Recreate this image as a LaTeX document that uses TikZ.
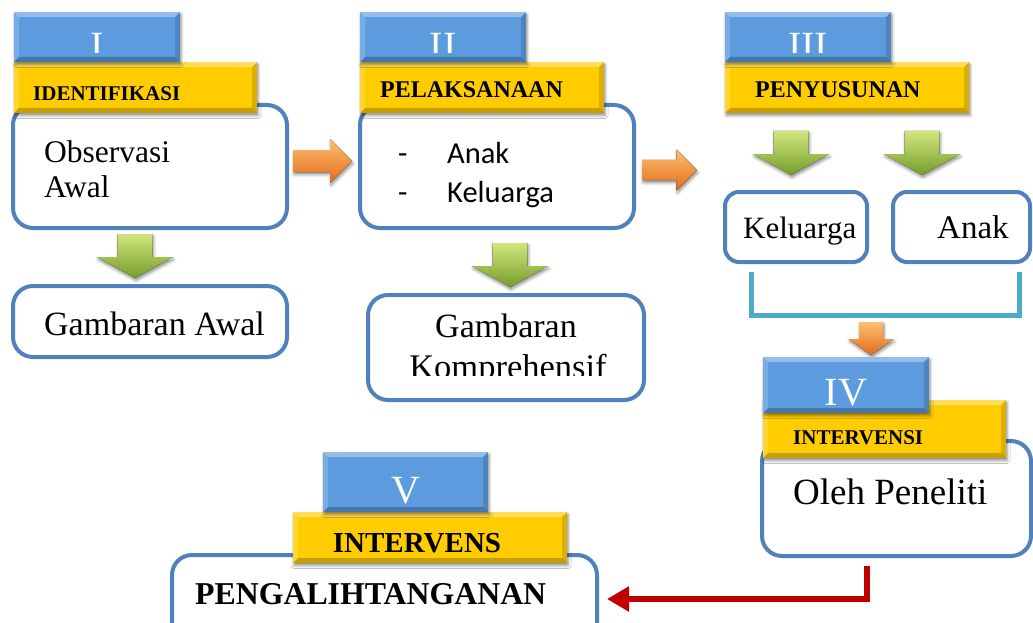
\documentclass[tikz,border=0pt]{standalone}
\usepackage{fontspec}
\setmainfont{Liberation Serif}
\newfontfamily\calibrifont{Carlito}
\usetikzlibrary{shadows,shadows.blur,arrows.meta,calc}

\definecolor{boxblue}{RGB}{79,129,189}
\definecolor{capblue}{RGB}{91,155,222}
\definecolor{capyellow}{RGB}{255,204,0}
\definecolor{bracketcyan}{RGB}{75,172,198}
\definecolor{arrred}{RGB}{192,0,0}
\definecolor{grnlight}{RGB}{208,230,125}
\definecolor{grndark}{RGB}{118,158,44}
\definecolor{orglight}{RGB}{253,192,115}
\definecolor{orgdark}{RGB}{226,108,26}

\tikzset{
  whitebox/.style={draw=boxblue, line width=4pt, rounded corners=20pt, fill=white, inner sep=0pt},
  smallbox/.style={whitebox, rounded corners=14pt},
  bevel/.style={path picture={
    \fill[white,opacity=0.35] (path picture bounding box.north west) -- (path picture bounding box.north east)
       -- ([shift={(-5pt,-5pt)}]path picture bounding box.north east) -- ([shift={(5pt,-5pt)}]path picture bounding box.north west) -- cycle;
    \fill[black,opacity=0.22] (path picture bounding box.south west) -- (path picture bounding box.south east)
       -- ([shift={(-5pt,5pt)}]path picture bounding box.south east) -- ([shift={(5pt,5pt)}]path picture bounding box.south west) -- cycle;
    \fill[white,opacity=0.18] (path picture bounding box.north west) -- (path picture bounding box.south west)
       -- ([shift={(5pt,5pt)}]path picture bounding box.south west) -- ([shift={(5pt,-5pt)}]path picture bounding box.north west) -- cycle;
    \fill[black,opacity=0.14] (path picture bounding box.north east) -- (path picture bounding box.south east)
       -- ([shift={(-5pt,5pt)}]path picture bounding box.south east) -- ([shift={(-5pt,-5pt)}]path picture bounding box.north east) -- cycle;
  }},
  softshadow/.style={blur shadow={shadow xshift=1pt, shadow yshift=-2.5pt, shadow blur radius=3pt, shadow opacity=45}},
  capbox/.style={bevel, fill=capblue, inner sep=0pt, softshadow},
  labelbox/.style={bevel, fill=capyellow, inner sep=0pt, softshadow},
  numtext/.style={inner sep=0pt, anchor=base, text=white, font=\fontsize{40}{40}\selectfont},
  labeltext/.style={inner sep=0pt, anchor=base west, font=\bfseries\fontsize{#1}{#1}\selectfont},
  bodytext/.style={inner sep=0pt, anchor=base west, font=\fontsize{#1}{#1}\selectfont},
  sanstext/.style={inner sep=0pt, anchor=base west, font=\calibrifont\fontsize{30.5}{30.5}\selectfont},
  bracketline/.style={draw=bracketcyan, line width=5pt},
  redarrow/.style={draw=arrred, line width=6.5pt, -{Triangle[length=22pt,width=24pt]}},
  greendown/.pic={
    \fill[top color=grnlight, bottom color=grndark, softshadow]
      (-17.5,0) -- (17.5,0) -- (17.5,23) -- (38,23) -- (0,44) -- (-38,23) -- (-17.5,23) -- cycle;
  },
  orangeright/.pic={
    \fill[top color=orglight, bottom color=orgdark, softshadow]
      (-29.5,-11) -- (7.5,-11) -- (7.5,-22) -- (29.5,0) -- (7.5,22) -- (7.5,11) -- (-29.5,11) -- cycle;
  },
  orangedown/.pic={
    \fill[top color=orglight, bottom color=orgdark, softshadow]
      (-12,0) -- (12,0) -- (12,17) -- (22.5,17) -- (0,33) -- (-22.5,17) -- (-12,17) -- cycle;
  },
}

\begin{document}
\begin{tikzpicture}[x=1pt,y=-1pt]
\useasboundingbox (0,0) rectangle (1033,623);
\clip (0,0) rectangle (1033,623);

% ---------- Block I ----------
\node[whitebox, minimum width=274pt, minimum height=123pt] (b1) at (150,166.5) {};
\node[labelbox, minimum width=243pt, minimum height=51pt] (y1) at (135.5,87.5) {};
\node[capbox, minimum width=166pt, minimum height=50pt] (c1) at (97,37) {};
\node[labeltext=21] (l1) at (33,101) {IDENTIFIKASI};
\node[bodytext=31.5] (t1a) at (44,162) {Observasi};
\node[bodytext=31.5] (t1b) at (44,197) {Awal};
\node[whitebox, minimum width=274pt, minimum height=71pt] (g1) at (150,321.5) {};
\node[bodytext=34] (tg1) at (44,335) {Gambaran Awal};
\pic at (135,234) {greendown};

% ---------- Block II ----------
\node[whitebox, minimum width=274pt, minimum height=123pt] (b2) at (497,166.5) {};
\node[labelbox, minimum width=244pt, minimum height=51pt] (y2) at (482,87.5) {};
\node[capbox, minimum width=166pt, minimum height=50pt] (c2) at (443,37) {};
\node[labeltext=24] (l2) at (380,98) {PELAKSANAAN};
\node[sanstext] (d2a) at (398,164) {-};
\node[sanstext] (t2a) at (447,164) {Anak};
\node[sanstext] (d2b) at (398,202) {-};
\node[sanstext] (t2b) at (447,202) {Keluarga};
\node[whitebox, minimum width=276pt, minimum height=105pt] (g2) at (506,347.5) {};
\node[bodytext=34, anchor=base] (tg2a) at (506,337) {Gambaran};
\begin{scope}
  \clip (360,290) rectangle (650,375);
  \node[bodytext=34.5, anchor=base] (tg2b) at (508,378) {Komprehensif};
\end{scope}
\pic at (510,243) {greendown};

% ---------- Block III ----------
\node[labelbox, minimum width=244pt, minimum height=51pt] (y3) at (847,87.5) {};
\node[capbox, minimum width=166pt, minimum height=50pt] (c3) at (808,37) {};
\node[labeltext=24] (l3) at (755,98) {PENYUSUNAN};
\pic at (791,131) {greendown};
\pic at (922,131) {greendown};
\node[smallbox, minimum width=142pt, minimum height=70pt] (k3) at (796,227) {};
\node[smallbox, minimum width=137pt, minimum height=70pt] (a3) at (961.5,227) {};
\node[bodytext=31] (tk3) at (743,238) {Keluarga};
\node[bodytext=33] (ta3) at (937,238) {Anak};
\coordinate (brl) at ($(k3.south west)+(28,8)$);
\coordinate (brr) at ($(a3.south east)+(-13,8)$);
\draw[bracketline] (brl) -- ++(0,43) -| (brr);

% numerals I-III (clipped at the bottom)
\begin{scope}
  \clip (0,0) rectangle (1033,53);
  \node[numtext] (n1) at (c1.center |- 0,59.5) {I};
  \node[numtext] (n2) at (c2.center |- 0,59.5) {II};
  \node[numtext] (n3) at (c3.center |- 0,59.5) {III};
\end{scope}

% arrows between blocks
\pic at (322.5,161) {orangeright};
\pic[scale=0.93] at (669.5,170) {orangeright};
\pic at (871,322) {orangedown};

% ---------- Block IV ----------
\node[whitebox, minimum width=269pt, minimum height=115pt] (b4) at (896.5,498.5) {};
\node[labelbox, minimum width=243pt, minimum height=58pt] (y4) at (884.5,429) {};
\node[capbox, minimum width=166pt, minimum height=56pt] (c4) at (846,385) {};
\node[numtext] (n4) at (846,405) {IV};
\node[labeltext=21] (l4) at (793,444) {INTERVENSI};
\node[bodytext=37] (t4) at (793,504) {Oleh Peneliti};

% ---------- Block V ----------
\node[whitebox, minimum width=425pt, minimum height=88pt] (b5) at (384.5,599) {};
\node[labelbox, minimum width=274pt, minimum height=51pt] (y5) at (430,537.5) {};
\node[capbox, minimum width=165pt, minimum height=60pt] (c5) at (405.5,482) {};
\node[numtext] (n5) at (405.5,503) {V};
\node[labeltext=29, anchor=base] (l5) at (417,552) {INTERVENS};
\node[labeltext=31.8] (t5) at (195,604) {PENGALIHTANGANAN};

% red connector IV -> V
\draw[redarrow] ($(b4.south)+(-29.5,8)$) |- ($(b5.east)+(8,0)$);
\end{tikzpicture}
\end{document}
